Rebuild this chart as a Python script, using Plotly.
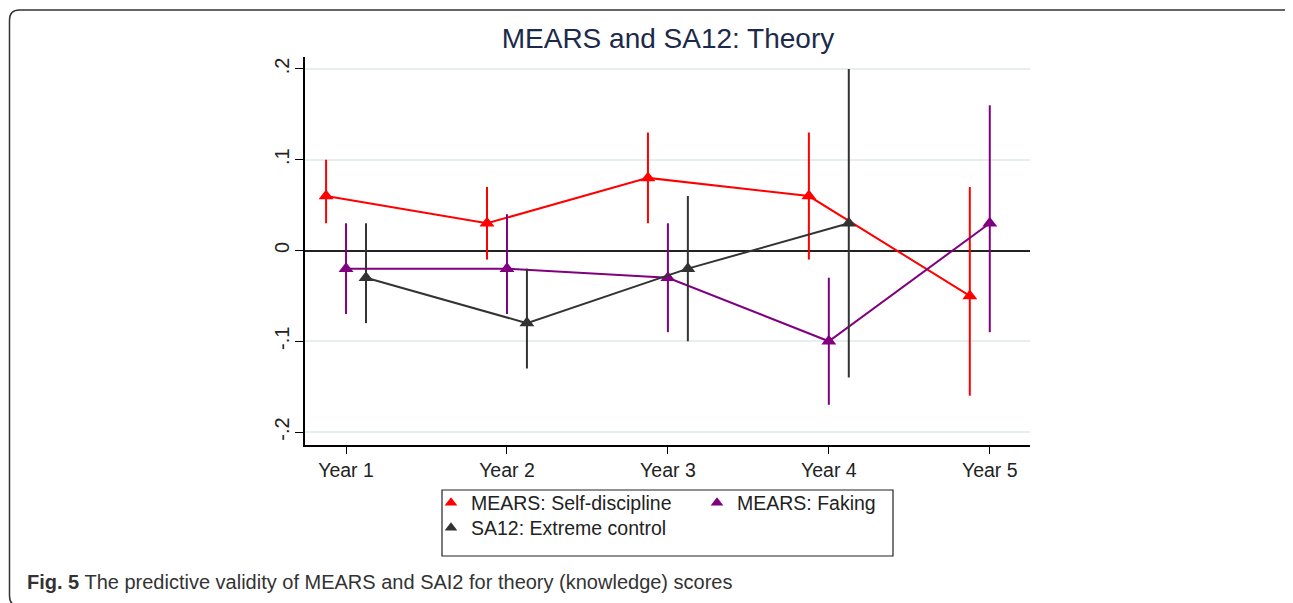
import plotly.graph_objects as go

years = ["Year 1", "Year 2", "Year 3", "Year 4", "Year 5"]

self_disc = [0.06, 0.03, 0.08, 0.06, -0.05]
self_disc_lo = [0.03, -0.01, 0.03, -0.01, -0.16]
self_disc_hi = [0.10, 0.07, 0.13, 0.13, 0.07]

faking = [-0.02, -0.02, -0.03, -0.10, 0.03]
faking_lo = [-0.07, -0.07, -0.09, -0.17, -0.09]
faking_hi = [0.03, 0.04, 0.03, -0.03, 0.16]

extreme = [-0.03, -0.08, -0.02, 0.03]
extreme_lo = [-0.08, -0.13, -0.10, -0.14]
extreme_hi = [0.03, -0.02, 0.06, 0.20]

ytick_vals = [-0.2, -0.1, 0, 0.1, 0.2]
ytick_text = ["-.2", "-.1", "0", ".1", ".2"]

# page geometry (pixels); the html body adds an 8px margin
OFF = 8
PAGE_W, PAGE_H = 1293, 603
W, H = PAGE_W - OFF, PAGE_H - OFF
L, R, T, B = 305, 1030, 57, 445          # plot area in page pixels
PW, PH = R - L, B - T


def px(x):
    return (x - L) / PW


def py(y):
    return (B - y) / PH


dodge = 0.124
series = [
    ("MEARS: Self-discipline", self_disc, self_disc_lo, self_disc_hi, "#ff0000", -dodge, "legend"),
    ("MEARS: Faking", faking, faking_lo, faking_hi, "#800080", 0.0, "legend"),
    ("SA12: Extreme control", extreme, extreme_lo, extreme_hi, "#333333", dodge, "legend2"),
]

fig = go.Figure()
for name, vals, lo, hi, col, off, lg in series:
    xs = [i + 1 + off for i in range(len(vals))]
    fig.add_trace(go.Scatter(
        x=xs, y=vals, mode="lines+markers", name=name, showlegend=False,
        line=dict(color=col, width=2),
        marker=dict(symbol="triangle-up", size=13, color=col),
        error_y=dict(type="data", symmetric=False,
                     array=[h - v for h, v in zip(hi, vals)],
                     arrayminus=[v - l for l, v in zip(lo, vals)],
                     color=col, thickness=2, width=0),
    ))

for name, vals, lo, hi, col, off, lg in series:
    fig.add_trace(go.Scatter(
        x=[None], y=[None], mode="markers", name=name, showlegend=True, legend=lg,
        marker=dict(symbol="triangle-up", size=11, color=col),
    ))

# rounded frame around the whole figure
x0, x1 = px(9.5), px(1294)
y0, y1 = py(606), py(10)
rx = 10 / PW
ry = 10 / PH
path = (f"M {x0+rx},{y1} L {x1-rx},{y1} Q {x1},{y1} {x1},{y1-ry} "
        f"L {x1},{y0+ry} Q {x1},{y0} {x1-rx},{y0} L {x0+rx},{y0} "
        f"Q {x0},{y0} {x0},{y0+ry} L {x0},{y1-ry} Q {x0},{y1} {x0+rx},{y1} Z")
fig.add_shape(type="path", path=path, xref="paper", yref="paper",
              line=dict(color="#333333", width=1.5), layer="below")

# legend box
fig.add_shape(type="rect", xref="paper", yref="paper",
              x0=px(442), x1=px(893), y0=py(556), y1=py(490),
              line=dict(color="#222222", width=1.2), layer="below")

fig.add_annotation(
    text="<b>Fig. 5</b> The predictive validity of MEARS and SAI2 for theory (knowledge) scores",
    xref="paper", yref="paper", x=px(25), y=py(582), xanchor="left", yanchor="middle",
    showarrow=False, font=dict(family="Liberation Sans, Arial", size=20, color="#333333"),
)

legend_common = dict(orientation="h", xanchor="left", yanchor="middle",
                     borderwidth=0, bgcolor="rgba(0,0,0,0)",
                     font=dict(family="Liberation Sans, Arial", size=19.5, color="#222222"))

fig.update_layout(
    width=W, height=H,
    margin=dict(l=L - OFF, r=W - (R - OFF), t=T - OFF, b=H - (B - OFF)),
    paper_bgcolor="white", plot_bgcolor="white",
    font=dict(family="Liberation Sans, Arial", size=19, color="#222222"),
    title=dict(text="MEARS and SA12: Theory", x=px(668), xref="paper",
               y=1 - (38 - OFF) / H, yanchor="middle", xanchor="center",
               font=dict(family="Liberation Sans, Arial", size=28, color="#1b2a4a")),
    xaxis=dict(range=[0.745, 5.25], tickvals=[1, 2, 3, 4, 5], ticktext=years,
               showgrid=False, zeroline=False, showline=True, linecolor="black",
               linewidth=1.5, ticks="outside", ticklen=7, tickcolor="black",
               tickfont=dict(size=19.5, color="#222222")),
    yaxis=dict(range=[-0.2143, 0.2132], tickvals=ytick_vals, ticktext=ytick_text,
               tickangle=-90, showgrid=True, gridcolor="#e6eef0", gridwidth=1.5,
               zeroline=True, zerolinecolor="#222222", zerolinewidth=2,
               showline=True, linecolor="black", linewidth=1.5,
               ticks="outside", ticklen=8, tickcolor="black", ticklabelstandoff=-2,
               tickfont=dict(size=20, color="#222222")),
    legend=dict(x=px(431), y=py(503), entrywidth=221, **legend_common),
    legend2=dict(x=px(431), y=py(528), **legend_common),
    showlegend=True,
)

fig.write_html("out.html")
